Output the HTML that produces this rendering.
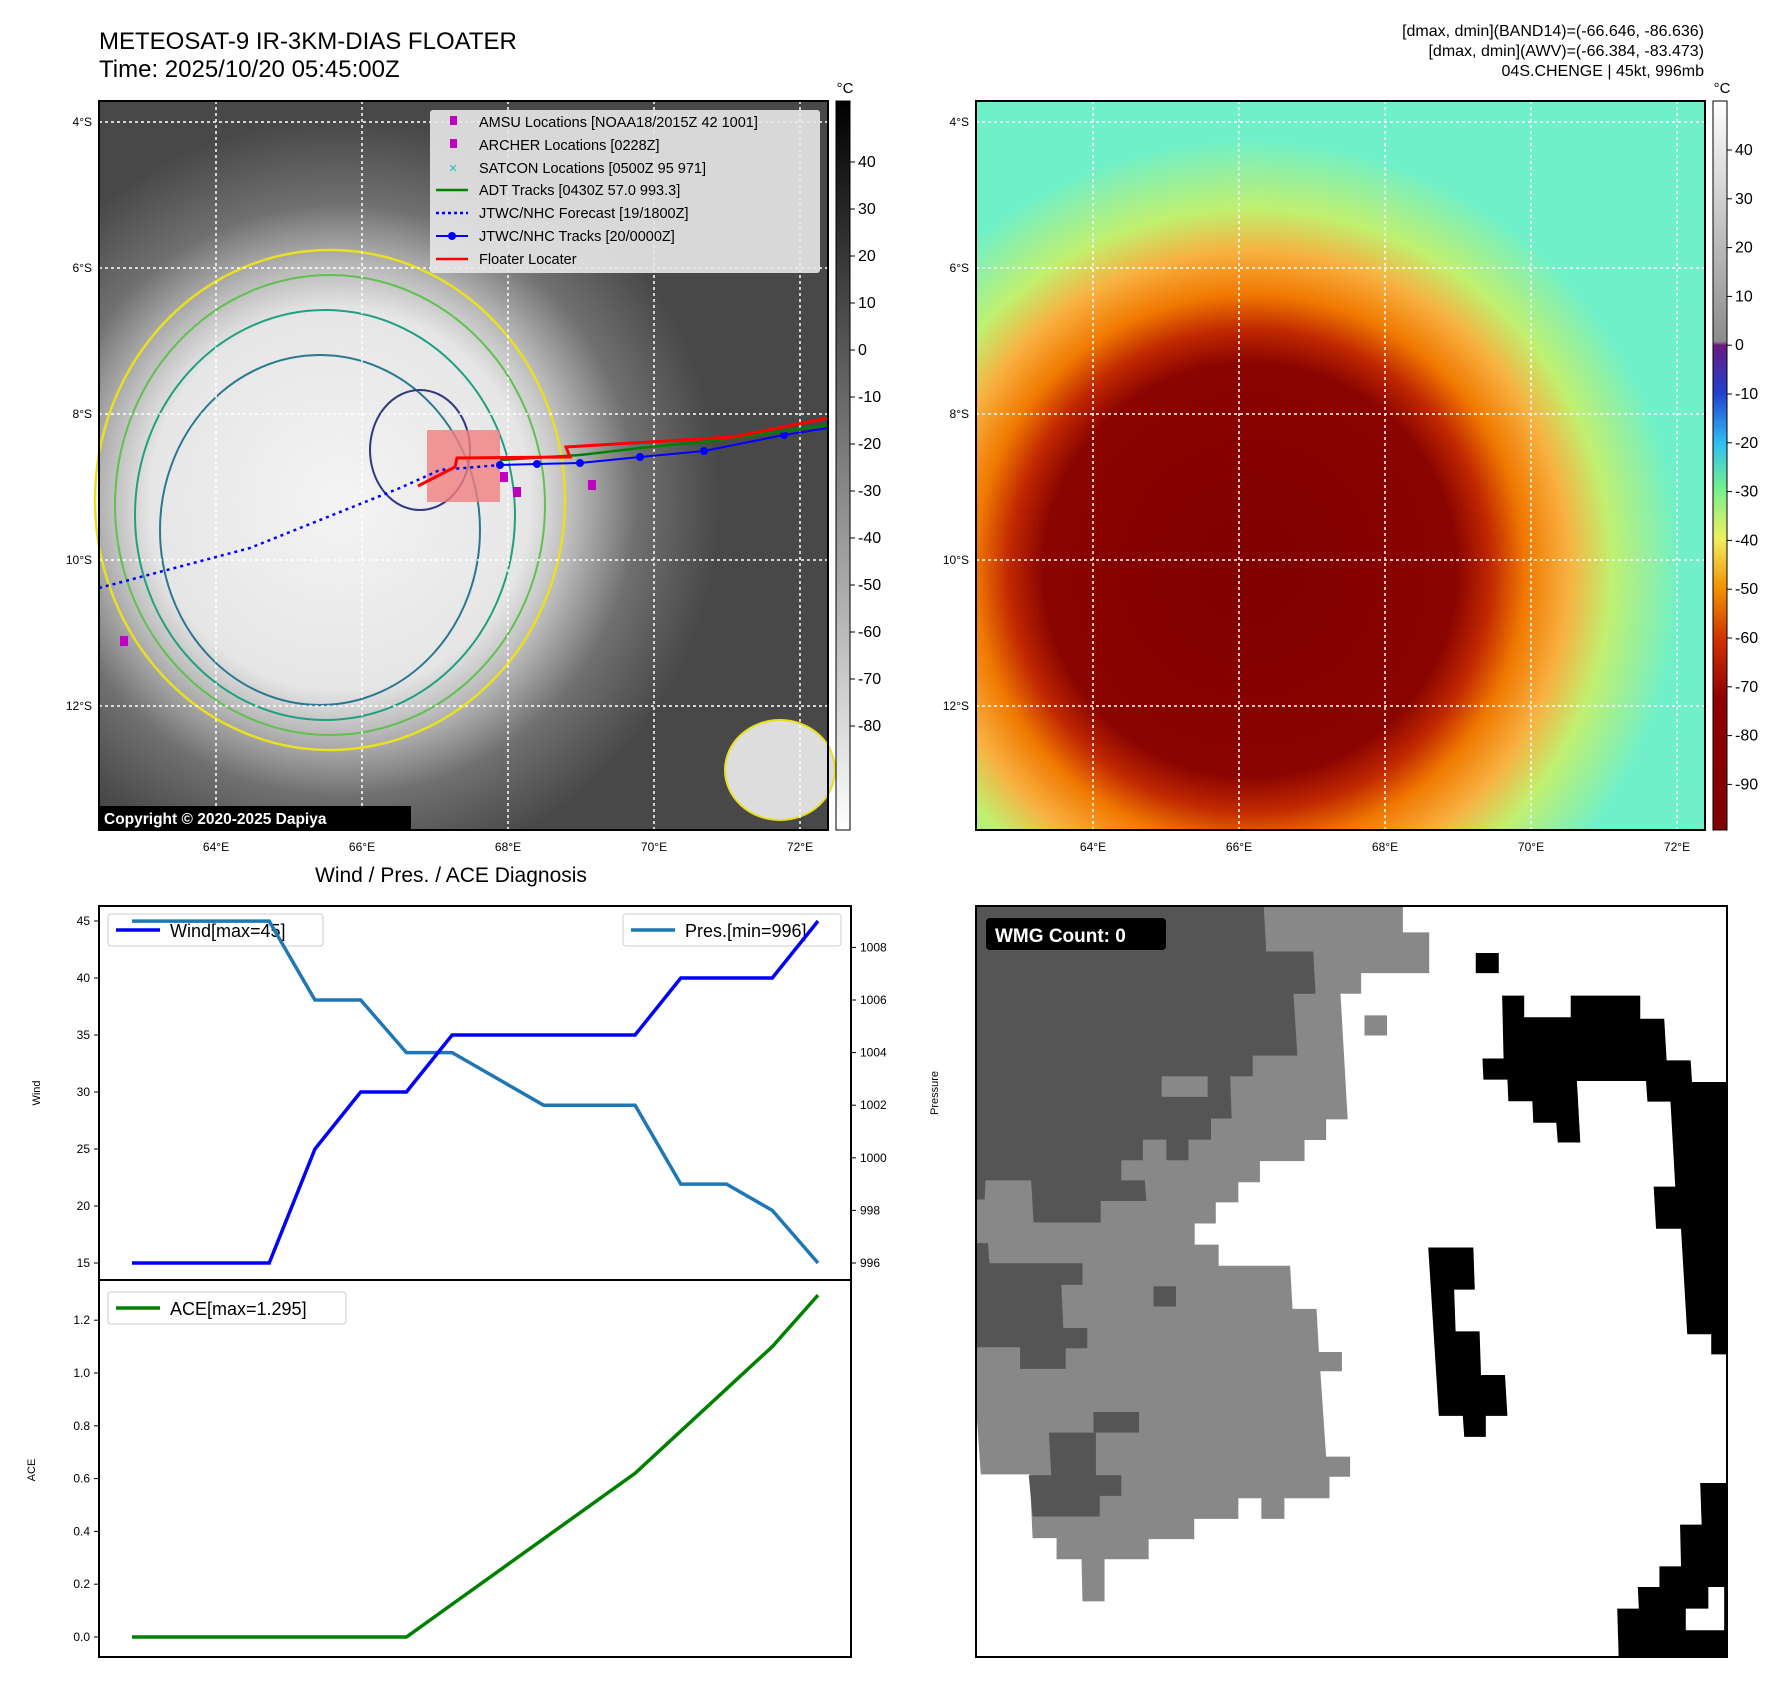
<!DOCTYPE html>
<html><head><meta charset="utf-8">
<style>
body{margin:0;background:#fff;font-family:"Liberation Sans","DejaVu Sans",sans-serif;}
#root{position:relative;width:1792px;height:1690px;overflow:hidden;background:#fff;}
.t{position:absolute;white-space:nowrap;color:#000;}
</style></head>
<body><div id="root">
<div class="t" style="left:99px;top:28px;font-size:24px;line-height:28px">METEOSAT-9 IR-3KM-DIAS FLOATER<br>Time: 2025/10/20 05:45:00Z</div>
<div class="t" style="right:88px;top:22px;font-size:16px;line-height:20px;text-align:right">[dmax, dmin](BAND14)=(-66.646, -86.636)<br>[dmax, dmin](AWV)=(-66.384, -83.473)<br>04S.CHENGE | 45kt, 996mb</div>
<div class="t" style="left:315px;top:864px;font-size:21px">Wind / Pres. / ACE Diagnosis</div>

<svg width="1792" height="1690" style="position:absolute;left:0;top:0" xmlns="http://www.w3.org/2000/svg" font-family="Liberation Sans, DejaVu Sans, sans-serif">
<defs>
<radialGradient id="irg" gradientUnits="userSpaceOnUse" cx="340" cy="500" r="380">
<stop offset="0" stop-color="#f4f4f4"/><stop offset="0.5" stop-color="#e6e6e6"/><stop offset="0.62" stop-color="#b8b8b8"/><stop offset="0.78" stop-color="#707070"/><stop offset="1" stop-color="#484848"/></radialGradient>
<radialGradient id="awg" gradientUnits="userSpaceOnUse" cx="1250" cy="570" r="430">
<stop offset="0" stop-color="#800000"/><stop offset="0.48" stop-color="#8a0400"/><stop offset="0.56" stop-color="#c02800"/><stop offset="0.64" stop-color="#f07800"/><stop offset="0.74" stop-color="#f8b040"/><stop offset="0.84" stop-color="#c0f070"/><stop offset="1" stop-color="#70f0c8"/></radialGradient>
<linearGradient id="cb1" x1="0" y1="0" x2="0" y2="1"><stop offset="0" stop-color="#000"/><stop offset="1" stop-color="#fff"/></linearGradient>
<linearGradient id="cb2" x1="0" y1="0" x2="0" y2="1">
<stop offset="0" stop-color="#fff"/><stop offset="0.33" stop-color="#8c8c8c"/><stop offset="0.335" stop-color="#6a1a80"/><stop offset="0.4" stop-color="#2040d0"/><stop offset="0.47" stop-color="#30c0f0"/><stop offset="0.53" stop-color="#70f090"/><stop offset="0.6" stop-color="#f0f060"/><stop offset="0.67" stop-color="#f09000"/><stop offset="0.74" stop-color="#d03000"/><stop offset="0.82" stop-color="#900000"/><stop offset="1" stop-color="#800000"/></linearGradient>
</defs>

<g>
<rect x="99" y="101" width="729" height="729" fill="url(#irg)"/>
<ellipse cx="330" cy="500" rx="235" ry="250" fill="none" stroke="#e8e020" stroke-width="2.5"/>
<ellipse cx="330" cy="505" rx="215" ry="230" fill="none" stroke="#60c050" stroke-width="2"/>
<ellipse cx="325" cy="515" rx="190" ry="205" fill="none" stroke="#20a080" stroke-width="2"/>
<ellipse cx="320" cy="530" rx="160" ry="175" fill="none" stroke="#2a7890" stroke-width="2"/>
<ellipse cx="420" cy="450" rx="50" ry="60" fill="none" stroke="#303880" stroke-width="2"/>
<ellipse cx="780" cy="770" rx="55" ry="50" fill="#ddd" stroke="#e8e020" stroke-width="2"/>
<g stroke="#fff" stroke-dasharray="3,3" stroke-width="1.5">
<line x1="216" y1="101" x2="216" y2="830"/><line x1="362" y1="101" x2="362" y2="830"/><line x1="508" y1="101" x2="508" y2="830"/><line x1="654" y1="101" x2="654" y2="830"/><line x1="800" y1="101" x2="800" y2="830"/>
<line x1="99" y1="122" x2="828" y2="122"/><line x1="99" y1="268" x2="828" y2="268"/><line x1="99" y1="414" x2="828" y2="414"/><line x1="99" y1="560" x2="828" y2="560"/><line x1="99" y1="706" x2="828" y2="706"/>
</g>
<rect x="427" y="430" width="73" height="72" fill="#f08080" opacity="0.8"/>
<polyline points="99,588 250,548 400,488 440,470 500,465" fill="none" stroke="#0000ff" stroke-width="2.5" stroke-dasharray="3,4"/>
<polyline points="500,465 537,464 580,463 640,457 704,451 784,435 828,428" fill="none" stroke="#0000ff" stroke-width="2"/>
<g fill="#0000ff"><circle cx="500" cy="465" r="4"/><circle cx="537" cy="464" r="4"/><circle cx="580" cy="463" r="4"/><circle cx="640" cy="457" r="4"/><circle cx="704" cy="451" r="4"/><circle cx="784" cy="435" r="4"/></g>
<polyline points="500,460 580,455 640,448 720,440 828,425" fill="none" stroke="#008000" stroke-width="2.5"/>
<polyline points="418,486 455,467 457,458 570,457 566,447 733,437 828,418" fill="none" stroke="#ff0000" stroke-width="3"/>
<g fill="#c000c0"><rect x="500" y="472" width="8" height="10"/><rect x="513" y="487" width="8" height="10"/><rect x="588" y="480" width="8" height="10"/><rect x="120" y="636" width="8" height="10"/></g>
<rect x="99" y="101" width="729" height="729" fill="none" stroke="#000" stroke-width="2"/>
<g>
<rect x="430" y="110" width="390" height="163" fill="#e8e8e8" opacity="0.9" rx="3"/>
<g font-size="14.5" fill="#000">
<rect x="450" y="116" width="7" height="9" fill="#c000c0"/><text x="479" y="127">AMSU Locations [NOAA18/2015Z 42 1001]</text>
<rect x="450" y="139" width="7" height="9" fill="#c000c0"/><text x="479" y="150">ARCHER Locations [0228Z]</text>
<text x="449" y="173" fill="#20c0c0">×</text><text x="479" y="173">SATCON Locations [0500Z 95 971]</text>
<line x1="436" y1="190" x2="468" y2="190" stroke="#008000" stroke-width="2.5"/><text x="479" y="195">ADT Tracks [0430Z 57.0 993.3]</text>
<line x1="436" y1="213" x2="468" y2="213" stroke="#0000ff" stroke-width="2.5" stroke-dasharray="3,3"/><text x="479" y="218">JTWC/NHC Forecast [19/1800Z]</text>
<line x1="436" y1="236" x2="468" y2="236" stroke="#0000ff" stroke-width="2"/><circle cx="452" cy="236" r="4" fill="#0000ff"/><text x="479" y="241">JTWC/NHC Tracks [20/0000Z]</text>
<line x1="436" y1="259" x2="468" y2="259" stroke="#ff0000" stroke-width="2.5"/><text x="479" y="264">Floater Locater</text>
</g></g>
<rect x="99" y="806" width="312" height="24" fill="#000"/>
<text x="104" y="824" font-size="15.5" font-weight="bold" fill="#fff">Copyright © 2020-2025 Dapiya</text>
</g>

<g>
<rect x="976" y="101" width="729" height="729" fill="url(#awg)"/>
<g stroke="#fff" stroke-dasharray="3,3" stroke-width="1.5">
<line x1="1093" y1="101" x2="1093" y2="830"/><line x1="1239" y1="101" x2="1239" y2="830"/><line x1="1385" y1="101" x2="1385" y2="830"/><line x1="1531" y1="101" x2="1531" y2="830"/><line x1="1677" y1="101" x2="1677" y2="830"/>
<line x1="976" y1="122" x2="1705" y2="122"/><line x1="976" y1="268" x2="1705" y2="268"/><line x1="976" y1="414" x2="1705" y2="414"/><line x1="976" y1="560" x2="1705" y2="560"/><line x1="976" y1="706" x2="1705" y2="706"/>
</g>
<rect x="976" y="101" width="729" height="729" fill="none" stroke="#000" stroke-width="2"/>
</g>

<g>
<rect x="836" y="101" width="14" height="729" fill="url(#cb1)" stroke="#000"/>
<text x="845" y="93" font-size="15" text-anchor="middle">°C</text>
</g>
<g>
<rect x="1713" y="101" width="14" height="729" fill="url(#cb2)" stroke="#000"/>
<text x="1722" y="93" font-size="15" text-anchor="middle">°C</text>
</g>
<g id="cbticks" font-size="16"></g>
<g id="mapticks" font-size="12"></g>

<g id="chart"></g>

<g>
<rect x="976" y="906" width="751" height="751" fill="#fff"/>
<g transform="translate(976,906) scale(0.4796)">
<path fill="#888" d="M0 0 L890 0 L890 55 L945 55 L945 140 L803 140 L803 183 L760 183 L775 445 L730 445 L730 488 L685 488 L685 532 L592 532 L592 576 L547 576 L547 618 L500 618 L500 662 L456 662 L456 706 L506 706 L506 750 L655 750 L660 840 L710 840 L715 930 L763 930 L763 970 L718 970 L730 1148 L780 1148 L780 1190 L737 1190 L737 1235 L643 1235 L643 1278 L595 1278 L595 1235 L547 1235 L547 1278 L455 1278 L455 1320 L360 1320 L360 1362 L268 1362 L268 1450 L222 1450 L220 1362 L168 1362 L168 1318 L118 1318 L112 1185 L10 1185 L0 1040 Z"/>
<rect x="810" y="228" width="47" height="42" fill="#888"/>
<g fill="#555">
<path d="M0 0 L600 0 L605 95 L703 95 L708 183 L662 183 L670 312 L577 312 L577 355 L530 355 L533 443 L490 443 L490 487 L443 487 L443 530 L397 530 L397 487 L348 487 L348 530 L303 530 L303 572 L352 572 L355 615 L260 615 L260 660 L120 660 L115 572 L20 572 L18 612 L0 612 Z"/>
<path d="M0 703 L25 703 L28 745 L222 745 L222 790 L178 790 L182 880 L232 880 L232 922 L187 922 L187 965 L92 965 L92 920 L0 920 Z"/>
<rect x="370" y="793" width="47" height="42"/>
<rect x="245" y="1055" width="95" height="43"/>
<path d="M152 1098 L250 1098 L250 1187 L303 1187 L303 1230 L258 1230 L258 1273 L118 1273 L110 1187 L157 1187 Z"/>
</g>
<rect x="387" y="355" width="96" height="43" fill="#888"/>
<g fill="#000">
<rect x="1042" y="98" width="48" height="42"/>
<path d="M1097 187 L1143 187 L1143 232 L1240 232 L1240 187 L1385 187 L1385 235 L1435 235 L1440 322 L1490 322 L1493 367 L1566 367 L1566 935 L1533 935 L1533 893 L1483 893 L1470 673 L1418 673 L1413 585 L1458 585 L1448 408 L1400 408 L1397 365 L1253 365 L1260 493 L1213 493 L1210 452 L1162 452 L1160 407 L1110 407 L1108 362 L1058 362 L1056 318 L1100 318 Z"/>
<path d="M943 712 L1037 712 L1040 800 L997 800 L1000 887 L1050 887 L1053 978 L1103 978 L1108 1063 L1063 1063 L1063 1107 L1018 1107 L1015 1063 L965 1063 Z"/>
<path d="M1510 1203 L1566 1203 L1566 1566 L1340 1566 L1337 1465 L1382 1465 L1380 1420 L1425 1420 L1425 1377 L1470 1377 L1468 1290 L1513 1290 Z"/>
</g>
<path d="M1480 1465 L1527 1465 L1527 1420 L1560 1420 L1560 1510 L1480 1510 Z" fill="#fff"/>
</g>
<rect x="976" y="906" width="751" height="751" fill="none" stroke="#000" stroke-width="2"/>
<rect x="986" y="918" width="180" height="32" rx="4" fill="#000"/>
<text x="995" y="942" font-size="19" font-weight="bold" fill="#fff">WMG Count: 0</text>
</g>
</svg>

<script>
const ns='http://www.w3.org/2000/svg';
function mk(parent,tag,attrs,txt){const e=document.createElementNS(ns,tag);for(const k in attrs)e.setAttribute(k,attrs[k]);if(txt!==undefined)e.textContent=txt;parent.appendChild(e);return e;}
const cb=document.getElementById('cbticks');
const irTicks=[40,30,20,10,0,-10,-20,-30,-40,-50,-60,-70,-80];
const awvTicks=[40,30,20,10,0,-10,-20,-30,-40,-50,-60,-70,-80,-90];
irTicks.forEach(v=>{const y=162+(40-v)*4.7;mk(cb,'line',{x1:850,x2:855,y1:y,y2:y,stroke:'#000'});const t=mk(cb,'text',{x:858,y:y+5},v);

});
awvTicks.forEach(v=>{const y=150+(40-v)*4.88;mk(cb,'line',{x1:1727,x2:1732,y1:y,y2:y,stroke:'#000'});const t=mk(cb,'text',{x:1735,y:y+5},v);

});
const mt=document.getElementById('mapticks');
const lonLabels=['64°E','66°E','68°E','70°E','72°E'];
const latLabels=['4°S','6°S','8°S','10°S','12°S'];
[99,976].forEach(x0=>{
lonLabels.forEach((l,i)=>{const x=x0+117+i*146;const t=mk(mt,'text',{x:x,y:851,'text-anchor':'middle'},l);

});
latLabels.forEach((l,i)=>{const y=122+i*146;const t=mk(mt,'text',{x:x0-7,y:y+4,'text-anchor':'end'},l);

});
});

const windVals=[15,15,15,15,25,30,30,35,35,35,35,35,40,40,40,45];
const presVals=[1009,1009,1009,1009,1006,1006,1004,1004,1003,1002,1002,1002,999,999,998,996];
const aceVals=[0,0,0,0,0,0,0,0.124,0.248,0.372,0.496,0.62,0.78,0.94,1.1,1.295];
const windTicks=[15,20,25,30,35,40,45];
const presTicks=[996,998,1000,1002,1004,1006,1008];
const aceTicks=[0.0,0.2,0.4,0.6,0.8,1.0,1.2];
</script>
<script>
(function(){
const g=document.getElementById('chart');
const L=99,R=851,T=906,M=1280,B=1657;
const xs=i=>132+i*(818-132)/(aceVals.length-1);
const xw=i=>132+i*(818-132)/(windVals.length-1);
const yW=v=>1263-(v-15)*11.4;
const yP=v=>1263-(v-996)*26.3;
const yA=v=>1637-v*264;
// legends first (lines drawn over them as in reference)
const lw=mk(g,'g',{});


mk(lw,'rect',{x:108,y:914,width:215,height:32,fill:'#fff',stroke:'#ccc',rx:3});
mk(lw,'line',{x1:116,x2:160,y1:930,y2:930,stroke:'#0000ff','stroke-width':3.5});
mk(lw,'text',{x:170,y:937,'font-size':18},'Wind[max=45]');
const lp=mk(g,'g',{});


mk(lp,'rect',{x:623,y:914,width:218,height:32,fill:'#fff',stroke:'#ccc',rx:3});
mk(lp,'line',{x1:631,x2:675,y1:930,y2:930,stroke:'#1f77b4','stroke-width':3.5});
mk(lp,'text',{x:685,y:937,'font-size':18},'Pres.[min=996]');
const la=mk(g,'g',{});


mk(la,'rect',{x:108,y:1292,width:238,height:32,fill:'#fff',stroke:'#ccc',rx:3});
mk(la,'line',{x1:116,x2:160,y1:1308,y2:1308,stroke:'#008000','stroke-width':3.5});
mk(la,'text',{x:170,y:1315,'font-size':18},'ACE[max=1.295]');

mk(g,'rect',{x:L,y:T,width:R-L,height:B-T,fill:'none',stroke:'#000','stroke-width':2});
mk(g,'line',{x1:L,x2:R,y1:M,y2:M,stroke:'#000','stroke-width':2});
windTicks.forEach(v=>{const y=yW(v);mk(g,'line',{x1:L-5,x2:L,y1:y,y2:y,stroke:'#000'});const t=mk(g,'text',{x:L-9,y:y+4,'font-size':12,'text-anchor':'end'},v);

});
presTicks.forEach(v=>{const y=yP(v);mk(g,'line',{x1:R,x2:R+5,y1:y,y2:y,stroke:'#000'});const t=mk(g,'text',{x:R+9,y:y+4,'font-size':12},v);

});
aceTicks.forEach(v=>{const y=yA(v);mk(g,'line',{x1:L-5,x2:L,y1:y,y2:y,stroke:'#000'});const t=mk(g,'text',{x:L-9,y:y+4,'font-size':12,'text-anchor':'end'},v.toFixed(1));

});
const yl=mk(g,'text',{x:40,y:1093,'font-size':11,'text-anchor':'middle',transform:'rotate(-90 40 1093)'},'Wind');


const pl=mk(g,'text',{x:938,y:1093,'font-size':11,'text-anchor':'middle',transform:'rotate(-90 938 1093)'},'Pressure');


const al=mk(g,'text',{x:35,y:1470,'font-size':11,'text-anchor':'middle',transform:'rotate(-90 35 1470)'},'ACE');


const pp=mk(g,'polyline',{points:presVals.map((v,i)=>xw(i)+','+yP(v)).join(' '),fill:'none',stroke:'#1f77b4','stroke-width':3.5});


const pw=mk(g,'polyline',{points:windVals.map((v,i)=>xw(i)+','+yW(v)).join(' '),fill:'none',stroke:'#0000ff','stroke-width':3.5});


const pa=mk(g,'polyline',{points:aceVals.map((v,i)=>xs(i)+','+yA(v)).join(' '),fill:'none',stroke:'#008000','stroke-width':3.5});


})();
</script>
</div></body></html>
